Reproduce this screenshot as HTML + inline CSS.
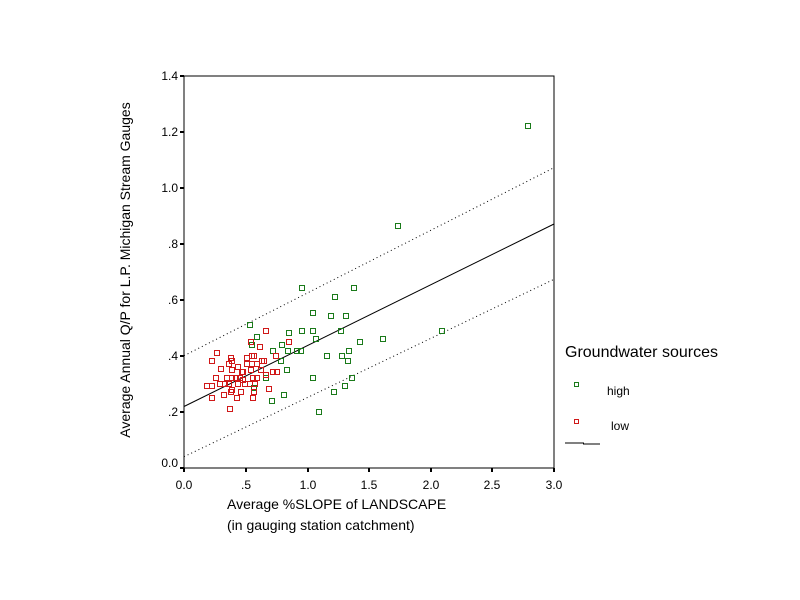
<!DOCTYPE html>
<html><head><style>body{margin:0;background:#fff}svg{display:block}text{font-family:"Liberation Sans",Arial,sans-serif}</style></head><body>
<svg width="800" height="600" xmlns="http://www.w3.org/2000/svg">
<rect width="800" height="600" fill="#fff"/>
<rect x="184" y="76" width="370" height="392" fill="none" stroke="#000" stroke-width="1"/>
<g stroke="#000" stroke-width="2">
<line x1="180" y1="76" x2="184" y2="76"/><line x1="180" y1="132" x2="184" y2="132"/><line x1="180" y1="188" x2="184" y2="188"/><line x1="180" y1="244" x2="184" y2="244"/><line x1="180" y1="300" x2="184" y2="300"/><line x1="180" y1="356" x2="184" y2="356"/><line x1="180" y1="412" x2="184" y2="412"/><line x1="180" y1="468" x2="184" y2="468"/>
<line x1="184" y1="468" x2="184" y2="472"/><line x1="246" y1="468" x2="246" y2="472"/><line x1="308" y1="468" x2="308" y2="472"/><line x1="369" y1="468" x2="369" y2="472"/><line x1="431" y1="468" x2="431" y2="472"/><line x1="492" y1="468" x2="492" y2="472"/><line x1="554" y1="468" x2="554" y2="472"/>
</g>
<g font-size="12" text-anchor="end" fill="#000">
<text x="178" y="80">1.4</text><text x="178" y="136">1.2</text><text x="178" y="192">1.0</text><text x="178" y="248">.8</text><text x="178" y="304">.6</text><text x="178" y="360">.4</text><text x="178" y="416">.2</text><text x="178" y="467">0.0</text>
</g>
<g font-size="12" text-anchor="middle" fill="#000">
<text x="184" y="489">0.0</text><text x="246" y="489">.5</text><text x="308" y="489">1.0</text><text x="369" y="489">1.5</text><text x="431" y="489">2.0</text><text x="492" y="489">2.5</text><text x="554" y="489">3.0</text>
</g>
<text x="227" y="509" font-size="14">Average %SLOPE of  LANDSCAPE</text>
<text x="227" y="530" font-size="14">(in gauging station catchment)</text>
<text transform="translate(130,270) rotate(-90)" font-size="14" text-anchor="middle">Average Annual Q/P for  L.P. Michigan Stream Gauges</text>
<line x1="184" y1="406.5" x2="554" y2="224" stroke="#000" stroke-width="1"/>
<line x1="184" y1="355.7" x2="554" y2="167.7" stroke="#000" stroke-width="1" stroke-dasharray="1,3"/>
<line x1="184" y1="456.7" x2="554" y2="279.3" stroke="#000" stroke-width="1" stroke-dasharray="1,3"/>
<g fill="none" stroke="#1a7a1a" stroke-width="1">
<rect x="525.5" y="123.5" width="5" height="5"/><rect x="395.5" y="223.5" width="5" height="5"/><rect x="439.5" y="328.5" width="5" height="5"/><rect x="299.5" y="285.5" width="5" height="5"/><rect x="351.5" y="285.5" width="5" height="5"/><rect x="332.5" y="294.5" width="5" height="5"/><rect x="310.5" y="310.5" width="5" height="5"/><rect x="328.5" y="313.5" width="5" height="5"/><rect x="343.5" y="313.5" width="5" height="5"/><rect x="247.5" y="322.5" width="5" height="5"/><rect x="299.5" y="328.5" width="5" height="5"/><rect x="310.5" y="328.5" width="5" height="5"/><rect x="338.5" y="328.5" width="5" height="5"/><rect x="254.5" y="334.5" width="5" height="5"/><rect x="286.5" y="330.5" width="5" height="5"/><rect x="313.5" y="336.5" width="5" height="5"/><rect x="380.5" y="336.5" width="5" height="5"/><rect x="357.5" y="339.5" width="5" height="5"/><rect x="249.5" y="342.5" width="5" height="5"/><rect x="279.5" y="342.5" width="5" height="5"/><rect x="270.5" y="348.5" width="5" height="5"/><rect x="285.5" y="348.5" width="5" height="5"/><rect x="294.5" y="348.5" width="5" height="5"/><rect x="298.5" y="348.5" width="5" height="5"/><rect x="346.5" y="348.5" width="5" height="5"/><rect x="324.5" y="353.5" width="5" height="5"/><rect x="339.5" y="353.5" width="5" height="5"/><rect x="278.5" y="358.5" width="5" height="5"/><rect x="345.5" y="358.5" width="5" height="5"/><rect x="263.5" y="375.5" width="5" height="5"/><rect x="284.5" y="367.5" width="5" height="5"/><rect x="310.5" y="375.5" width="5" height="5"/><rect x="349.5" y="375.5" width="5" height="5"/><rect x="281.5" y="392.5" width="5" height="5"/><rect x="342.5" y="383.5" width="5" height="5"/><rect x="331.5" y="389.5" width="5" height="5"/><rect x="269.5" y="398.5" width="5" height="5"/><rect x="316.5" y="409.5" width="5" height="5"/><rect x="251.5" y="385.5" width="5" height="5"/>
</g>
<g fill="none" stroke="#d01818" stroke-width="1">
<rect x="263.5" y="328.5" width="5" height="5"/><rect x="248.5" y="339.5" width="5" height="5"/><rect x="286.5" y="339.5" width="5" height="5"/><rect x="214.5" y="350.5" width="5" height="5"/><rect x="209.5" y="358.5" width="5" height="5"/><rect x="228.5" y="355.5" width="5" height="5"/><rect x="229.5" y="358.5" width="5" height="5"/><rect x="226.5" y="361.5" width="5" height="5"/><rect x="229.5" y="367.5" width="5" height="5"/><rect x="239.5" y="369.5" width="5" height="5"/><rect x="244.5" y="355.5" width="5" height="5"/><rect x="244.5" y="361.5" width="5" height="5"/><rect x="249.5" y="353.5" width="5" height="5"/><rect x="251.5" y="353.5" width="5" height="5"/><rect x="259.5" y="358.5" width="5" height="5"/><rect x="261.5" y="358.5" width="5" height="5"/><rect x="249.5" y="361.5" width="5" height="5"/><rect x="254.5" y="361.5" width="5" height="5"/><rect x="248.5" y="367.5" width="5" height="5"/><rect x="258.5" y="367.5" width="5" height="5"/><rect x="263.5" y="372.5" width="5" height="5"/><rect x="273.5" y="353.5" width="5" height="5"/><rect x="270.5" y="369.5" width="5" height="5"/><rect x="274.5" y="369.5" width="5" height="5"/><rect x="240.5" y="369.5" width="5" height="5"/><rect x="213.5" y="375.5" width="5" height="5"/><rect x="224.5" y="375.5" width="5" height="5"/><rect x="229.5" y="375.5" width="5" height="5"/><rect x="233.5" y="375.5" width="5" height="5"/><rect x="237.5" y="375.5" width="5" height="5"/><rect x="240.5" y="377.5" width="5" height="5"/><rect x="250.5" y="375.5" width="5" height="5"/><rect x="254.5" y="375.5" width="5" height="5"/><rect x="204.5" y="383.5" width="5" height="5"/><rect x="209.5" y="383.5" width="5" height="5"/><rect x="217.5" y="381.5" width="5" height="5"/><rect x="222.5" y="381.5" width="5" height="5"/><rect x="226.5" y="381.5" width="5" height="5"/><rect x="235.5" y="381.5" width="5" height="5"/><rect x="242.5" y="381.5" width="5" height="5"/><rect x="247.5" y="381.5" width="5" height="5"/><rect x="252.5" y="381.5" width="5" height="5"/><rect x="209.5" y="395.5" width="5" height="5"/><rect x="221.5" y="392.5" width="5" height="5"/><rect x="229.5" y="387.5" width="5" height="5"/><rect x="234.5" y="395.5" width="5" height="5"/><rect x="238.5" y="389.5" width="5" height="5"/><rect x="250.5" y="395.5" width="5" height="5"/><rect x="266.5" y="386.5" width="5" height="5"/><rect x="227.5" y="406.5" width="5" height="5"/><rect x="251.5" y="389.5" width="5" height="5"/><rect x="228.5" y="389.5" width="5" height="5"/><rect x="218.5" y="366.5" width="5" height="5"/><rect x="257.5" y="344.5" width="5" height="5"/><rect x="235.5" y="364.5" width="5" height="5"/>
</g>
<text x="565" y="357" font-size="16">Groundwater sources</text>
<rect x="574.5" y="382.5" width="4" height="4" fill="none" stroke="#1a7a1a"/>
<text x="607" y="395" font-size="12">high</text>
<rect x="574.5" y="419.5" width="4" height="4" fill="none" stroke="#d01818"/>
<text x="611" y="430" font-size="12">low</text>
<line x1="565" y1="443" x2="584" y2="443" stroke="#000"/><line x1="583" y1="444" x2="600" y2="444" stroke="#000"/>
</svg>
</body></html>
